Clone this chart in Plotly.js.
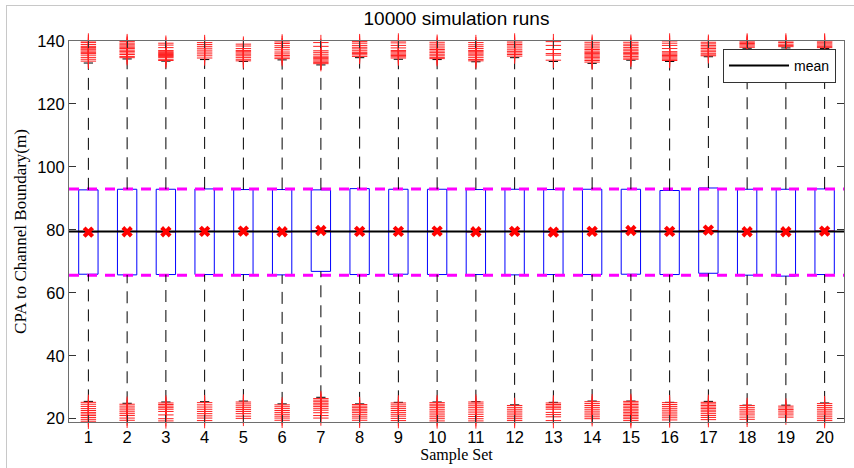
<!DOCTYPE html>
<html>
<head>
<meta charset="utf-8">
<script src="https://cdn.plot.ly/plotly-3.0.1.min.js"></script>
<style>
  html, body { margin: 0; padding: 0; background: #fff; }
  #wrap { position: relative; width: 854px; height: 468px; }
  #chart { width: 854px; height: 468px; }
  #frame { position: absolute; left: 6px; top: 5px; width: 848px; height: 463px;
           border-left: 1px solid #c8c8c8; border-top: 1px solid #c8c8c8;
           pointer-events: none; box-sizing: border-box; }
</style>
</head>
<body>
<div id="wrap"><div id="chart"></div><div id="frame"></div></div>
<script>
// ---- data ----
const sampleSets = [1,2,3,4,5,6,7,8,9,10,11,12,13,14,15,16,17,18,19,20];
const tickLabels = ["1","2","3","4","5","6","7","8","9","10","11","12","13","14","15","16","17","18","19","20"];
const yTicks = [20, 40, 60, 80, 100, 120, 140];

const q1 = [65.9,65.7,65.8,65.8,65.8,65.7,66.8,65.8,65.9,65.8,65.8,65.7,65.8,65.8,65.9,65.8,66.2,65.6,65.3,65.8];
const q3 = [92.7,92.9,92.9,93.0,92.8,92.8,92.7,93.1,92.9,92.9,92.8,92.9,92.8,92.9,92.9,92.5,93.3,92.9,92.9,93.0];
const medians = [79.4,79.5,79.4,79.5,79.5,79.4,79.7,79.5,79.5,79.5,79.4,79.5,79.4,79.5,79.7,79.5,79.8,79.4,79.4,79.6];
const means = [79.3,79.4,79.4,79.5,79.6,79.4,79.8,79.5,79.5,79.6,79.4,79.5,79.3,79.5,79.8,79.5,79.9,79.4,79.4,79.6];
const upperWhisker = [133.0,134.3,133.6,134.1,133.5,134.0,132.4,134.7,134.2,134.1,133.4,134.7,133.5,132.9,133.9,133.5,135.0,137.7,137.8,137.6];
const lowerWhisker = [25.5,24.9,25.3,25.4,25.6,24.7,26.8,24.7,25.2,25.3,25.4,24.4,25.2,25.6,25.6,25.2,25.5,24.3,24.3,25.0];

const outliersHigh = [
  [140.0,139.5,138.9,138.3,137.9,137.5,137.2,136.8,136.4,136.0,135.5,134.8,134.2,133.6],
  [140.3,139.8,139.3,138.8,138.4,138.0,137.6,137.1,136.7,136.2,135.7,135.1,134.7],
  [139.3,138.7,137.9,137.0,136.6,136.3,136.0,135.7,135.4,135.1,134.8,134.2,133.8],
  [140.1,139.5,138.9,138.3,137.7,137.1,136.5,135.9,135.3,134.6],
  [139.0,138.4,137.6,137.0,136.6,136.2,135.8,135.3,134.8,134.2,133.7],
  [140.2,139.7,139.2,138.5,137.9,137.2,136.5,135.9,135.4,134.9,134.4],
  [139.5,138.3,136.9,136.4,135.8,135.2,134.8,134.4,134.0,133.6,133.2,132.8],
  [139.8,139.3,138.6,138.0,137.5,136.9,136.4,136.0,135.6,135.1],
  [140.0,139.4,138.6,137.8,137.0,136.6,136.2,135.8,135.4,135.0,134.6],
  [139.6,139.0,138.4,137.8,137.3,136.8,136.3,135.8,135.3,134.8,134.4],
  [140.1,139.5,138.8,138.2,137.6,137.0,136.6,136.2,135.8,135.3,134.7,134.1,133.7],
  [140.0,139.4,138.9,138.4,137.8,137.2,136.7,136.2,135.7,135.2],
  [139.8,138.6,137.3,136.0,135.5,133.9],
  [139.6,139.0,138.4,137.8,137.3,136.8,136.4,136.0,135.6,135.2,134.8,134.3,133.8,133.3],
  [139.6,139.0,138.5,137.9,137.4,136.9,136.4,136.0,135.6,135.1,134.6,134.2],
  [140.0,139.3,138.6,137.6,136.6,136.2,135.8,135.4,135.0,134.6,134.2,133.8],
  [139.6,139.1,138.6,138.1,137.6,137.1,136.6,136.1,135.6,135.3],
  [140.0,139.6,139.2,138.8,138.4,138.0],
  [140.0,139.5,139.0,138.6,138.2],
  [140.0,139.6,139.1,138.7,138.3,137.9]
];
const outliersLow = [
  [25.2,24.6,23.9,23.2,22.6,22.0,21.5,21.0,20.4,19.8,19.2],
  [24.6,24.0,23.4,22.8,22.2,21.6,21.0,20.2,19.5],
  [25.0,24.5,24.0,23.5,23.0,22.3,21.2,20.0,19.3],
  [25.1,24.4,23.7,23.0,22.3,21.6,20.9,20.2,19.4],
  [25.3,24.7,24.1,23.5,22.9,22.3,21.6,20.8,20.1],
  [24.4,23.8,23.2,22.6,22.0,21.4,20.8,20.2,19.5],
  [26.4,25.9,25.4,24.9,24.4,23.9,23.3,22.7,21.9,21.0,20.2],
  [24.5,24.0,23.5,23.0,22.5,22.0,21.4,20.8,20.2,19.5],
  [25.0,24.4,23.8,23.2,22.6,22.0,21.4,20.8,20.1,19.4],
  [25.1,24.6,24.1,23.6,23.0,22.4,21.8,21.2,20.6,20.0,19.3],
  [25.3,24.7,24.1,23.5,22.8,22.1,21.4,20.7,20.0,19.3],
  [24.2,23.6,23.0,22.4,21.8,21.2,20.6,20.0,19.4],
  [25.0,24.5,24.0,23.5,23.0,22.0,21.3,20.6,19.4],
  [25.4,24.8,24.2,23.6,23.0,22.4,21.8,21.2,20.6,20.0],
  [25.5,25.0,24.5,24.0,23.5,23.0,22.5,22.0,21.5,21.0,20.5,20.0,19.4],
  [25.1,24.5,23.9,23.3,22.7,22.1,21.5,20.9,20.3,19.6],
  [25.2,24.7,24.2,23.7,23.2,22.7,22.2,21.6,21.0,20.4,19.7],
  [24.2,23.6,23.0,22.4,21.8,21.2,20.5,19.8],
  [24.0,23.4,22.9,22.4,21.8,21.2,20.5],
  [24.8,24.2,23.6,23.0,22.4,21.8,21.2,20.6,20.0,19.4]
];

const overallMean = 79.45;
const refLines = [93.0, 65.6];   // magenta dashed reference levels
const xRange = [0.5, 20.5];
const yRange = [18.95, 140];

// ---- style ----
const BOX_W = 0.5, CAP_HALF = 0.12, MED_HALF = 0.25;
const SANS = '"Liberation Sans", Arial, sans-serif';
const SERIF = '"Liberation Serif", "Times New Roman", serif';

function segs(xs, y0s, y1s, dx) {
  const X = [], Y = [];
  xs.forEach((x, i) => {
    if (dx) { X.push(x - dx, x + dx, null); Y.push(y0s[i], y0s[i], null); }
    else { X.push(x, x, null); Y.push(y0s[i], y1s[i], null); }
  });
  return {X, Y};
}

const traces = [];

// magenta dashed reference lines
refLines.forEach(v => traces.push({
  type: 'scatter', mode: 'lines', x: xRange, y: [v, v], showlegend: false, hoverinfo: 'skip',
  line: {color: '#ff00ff', width: 3, dash: '10px,8px'}
}));

// whiskers (dashed)
const wu = segs(sampleSets, q3, upperWhisker);
const wl = segs(sampleSets, lowerWhisker, q1);
traces.push({type: 'scatter', mode: 'lines', x: wu.X.concat(wl.X), y: wu.Y.concat(wl.Y),
  showlegend: false, hoverinfo: 'skip', line: {color: '#000', width: 1, dash: '12px,8px'}});

// whisker caps
const cu = segs(sampleSets, upperWhisker, null, CAP_HALF);
const cl = segs(sampleSets, lowerWhisker, null, CAP_HALF);
traces.push({type: 'scatter', mode: 'lines', x: cu.X.concat(cl.X), y: cu.Y.concat(cl.Y),
  showlegend: false, hoverinfo: 'skip', line: {color: '#000', width: 1}});

// boxes
traces.push({type: 'box', x: sampleSets, q1: q1, median: medians, q3: q3,
  lowerfence: q1, upperfence: q3, width: BOX_W, whiskerwidth: 0, boxpoints: false,
  fillcolor: 'rgba(0,0,0,0)', line: {color: '#0000ff', width: 1}, showlegend: false, hoverinfo: 'skip'});

// medians (red)
const md = segs(sampleSets, medians, null, MED_HALF);
traces.push({type: 'scatter', mode: 'lines', x: md.X, y: md.Y, showlegend: false, hoverinfo: 'skip',
  line: {color: '#ff0000', width: 1}});

// overall mean line
traces.push({type: 'scatter', mode: 'lines', x: xRange, y: [overallMean, overallMean],
  name: 'mean', showlegend: true, line: {color: '#000', width: 2}});

// per-set means
traces.push({type: 'scatter', mode: 'markers', x: sampleSets, y: means, showlegend: false,
  marker: {symbol: 'x', size: 10, color: '#ff0000', line: {width: 0}}});

// outliers
const ox = [], oy = [];
sampleSets.forEach((s, i) => {
  outliersHigh[i].forEach(v => { ox.push(s); oy.push(v); });
  outliersLow[i].forEach(v => { ox.push(s); oy.push(v); });
});
traces.push({type: 'scatter', mode: 'markers', x: ox, y: oy, showlegend: false, cliponaxis: false,
  marker: {symbol: 'cross-thin-open', size: 11, color: '#ff2020', line: {color: '#ff2020', width: 1}}});

const axisCommon = {
  showline: true, linecolor: '#6e6e6e', linewidth: 1, mirror: 'ticks',
  ticks: 'inside', ticklen: 7, tickcolor: '#333', showgrid: false, zeroline: false,
  tickfont: {family: SANS, size: 16.5, color: '#000'}
};

const layout = {
  width: 854, height: 468,
  margin: {l: 69, r: 10, t: 41, b: 46, pad: 0},
  paper_bgcolor: '#fff', plot_bgcolor: '#fff',
  title: {text: '10000 simulation runs', font: {family: SANS, size: 19, color: '#000'},
          x: 0.5, xref: 'paper', xanchor: 'center', y: 1 - 18/468, yref: 'container', yanchor: 'middle'},
  xaxis: Object.assign({}, axisCommon, {range: xRange, tickvals: sampleSets, ticktext: tickLabels,
          title: {text: 'Sample Set', font: {family: SERIF, size: 16, color: '#000'}, standoff: 2}}),
  yaxis: Object.assign({}, axisCommon, {range: yRange, tickvals: yTicks,
          title: {text: 'CPA to Channel Boundary(m)', font: {family: SERIF, size: 17, color: '#000'}, standoff: 6}}),
  legend: {x: 0.9897, xanchor: 'right', y: 0.979, yanchor: 'top', bgcolor: '#fff', itemwidth: 60,
           bordercolor: '#333', borderwidth: 1, font: {family: SANS, size: 14, color: '#000'}},
  showlegend: true
};

Plotly.newPlot('chart', traces, layout, {staticPlot: true, displayModeBar: false});
</script>
</body>
</html>
